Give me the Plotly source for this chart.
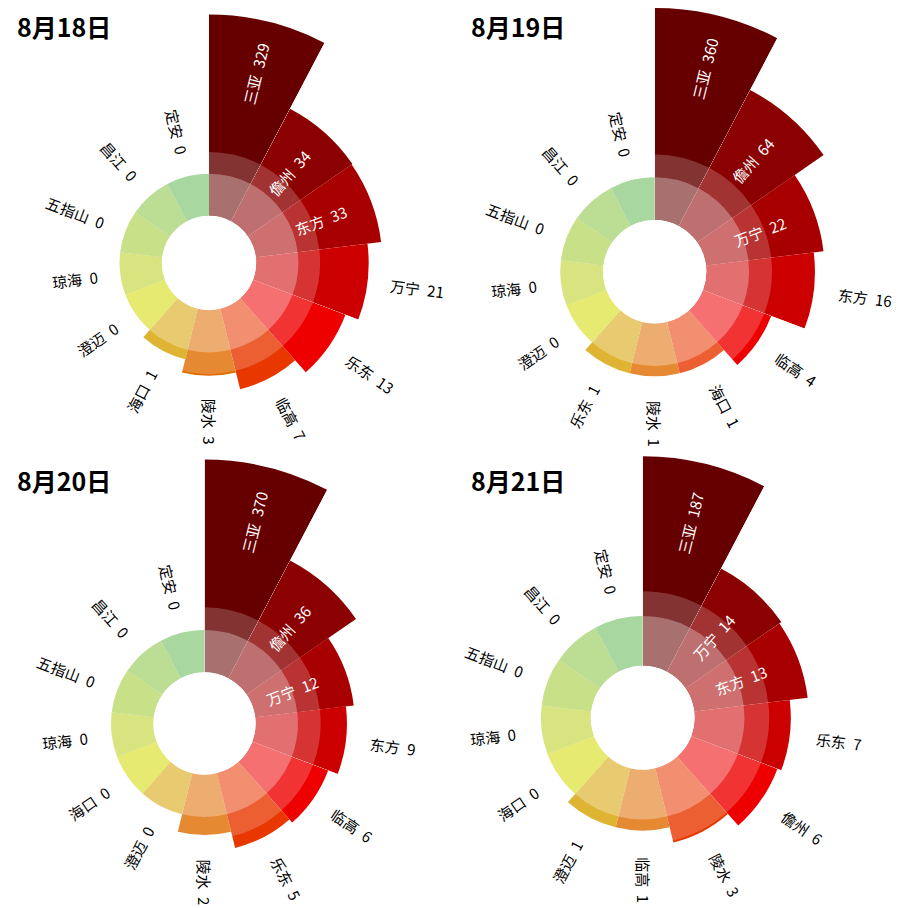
import numpy as np
import plotly.graph_objects as go

# ---------------- data ----------------
dates = ["8月18日", "8月19日", "8月20日", "8月21日"]

names_0818 = ["三亚", "儋州", "东方", "万宁", "乐东", "临高", "陵水", "海口", "澄迈", "琼海", "五指山", "昌江", "定安"]
values_0818 = [329, 34, 33, 21, 13, 7, 3, 1, 0, 0, 0, 0, 0]

names_0819 = ["三亚", "儋州", "万宁", "东方", "临高", "海口", "陵水", "乐东", "澄迈", "琼海", "五指山", "昌江", "定安"]
values_0819 = [360, 64, 22, 16, 4, 1, 1, 1, 0, 0, 0, 0, 0]

names_0820 = ["三亚", "儋州", "万宁", "东方", "临高", "乐东", "陵水", "澄迈", "海口", "琼海", "五指山", "昌江", "定安"]
values_0820 = [370, 36, 12, 9, 6, 5, 2, 0, 0, 0, 0, 0, 0]

names_0821 = ["三亚", "万宁", "东方", "乐东", "儋州", "陵水", "临高", "澄迈", "海口", "琼海", "五指山", "昌江", "定安"]
values_0821 = [187, 14, 13, 7, 6, 3, 1, 1, 0, 0, 0, 0, 0]

rank_colors = ["#660000", "#8b0000", "#a80000", "#cc0000", "#ee0000", "#e83800",
               "#e06c00", "#d8a200", "#d3da00", "#bacf1d", "#9dca2e", "#88c340", "#64ba56"]

charts = [(dates[0], names_0818, values_0818),
          (dates[1], names_0819, values_0819),
          (dates[2], names_0820, values_0820),
          (dates[3], names_0821, values_0821)]

# ---------------- layout / style ----------------
PAGE = 908
OFF = 8                      # default page margin of the html body
FIG = PAGE - OFF
# centre x, centre y, hole radius (px), px per radial unit   (page pixels)
geom = [(209.0, 263.0, 47.2, 48.3),
        (654.7, 271.7, 51.7, 51.0),
        (204.5, 723.5, 51.2, 50.5),
        (642.7, 717.8, 52.0, 55.0)]
title_pos = [(15, 26), (469, 26), (15, 480), (469, 480)]

RING, K, C, WEAK, STRONG_A, WEAK_A = 1.85, 0.70, 3.0, 2.30, 0.30, 0.20
FONT = "Noto Sans CJK SC"
LFS = 15
SP = "\u2002"

N = 13
STEP = 360.0 / N
theta_all = [(i + 0.5) * STEP for i in range(N)]
groups = [[0], [1, 2, 3], list(range(4, N))]   # sector pieces of every chart


def radial(v):
    return RING + K * np.log1p(np.asarray(v, dtype=float) / C)


def text_width(t, fs):
    w = 0.0
    for ch in t:
        if ch.isdigit():
            w += 0.55 * fs
        elif ch == SP:
            w += 0.5 * fs
        else:
            w += fs
    return w


def sector_bbox(s0, s1):
    arc = s1 - s0
    a0 = s0 % 360
    a1 = a0 + arc
    ax0, ay0 = np.cos(np.radians(a0)), np.sin(np.radians(a0))
    ax1, ay1 = np.cos(np.radians(a1)), np.sin(np.radians(a1))
    if (a0 <= 90 and a1 >= 90) or (a0 > 90 and a1 >= 450):
        y1 = 1
    elif ay0 <= 0 and ay1 <= 0:
        y1 = 0
    else:
        y1 = max(ay0, ay1)
    if (a0 <= 180 and a1 >= 180) or (a0 > 180 and a1 >= 540):
        x0 = -1
    elif ax0 >= 0 and ax1 >= 0:
        x0 = 0
    else:
        x0 = min(ax0, ax1)
    if (a0 <= 270 and a1 >= 270) or (a0 > 270 and a1 >= 630):
        y0 = -1
    elif ay0 >= 0 and ay1 >= 0:
        y0 = 0
    else:
        y0 = min(ay0, ay1)
    if a1 >= 360:
        x1 = 1
    elif ax0 <= 0 and ax1 <= 0:
        x1 = 0
    else:
        x1 = max(ax0, ax1)
    return x0, y0, x1, y1


def px(p):      # page pixel -> figure pixel
    return p - OFF


fig = go.Figure()
annotations = []
layout_polars = {}
pcount = 0

for k, (date, names, vals) in enumerate(charts):
    cx, cy, hole, s = geom[k]
    fcx, fcy = px(cx), px(cy)
    hu = hole / s
    uv = radial(vals)

    for g in groups:
        pcount += 1
        pid = "polar" if pcount == 1 else f"polar{pcount}"
        th_lo = g[0] * STEP
        th_hi = (g[-1] + 1) * STEP
        sec = [90 - th_hi, 90 - th_lo]
        bx0, by0, bx1, by1 = sector_bbox(*sec)
        R = max(max(uv[i] for i in g), WEAK) * s + 1.0
        lims = [R]
        if bx1 > 1e-9:
            lims.append((FIG - fcx) / bx1)
        if bx0 < -1e-9:
            lims.append(fcx / -bx0)
        if by1 > 1e-9:
            lims.append(fcy / by1)
        if by0 < -1e-9:
            lims.append((FIG - fcy) / -by0)
        R = min(lims) - 0.01
        xd = [max(0.0, (fcx + R * bx0) / FIG), min(1.0, (fcx + R * bx1) / FIG)]
        yd = [max(0.0, 1 - (fcy - R * by0) / FIG), min(1.0, 1 - (fcy - R * by1) / FIG)]

        th = [theta_all[i] for i in g]
        wd = [STEP] * len(g)
        fig.add_trace(go.Barpolar(r=[uv[i] - hu for i in g], theta=th, width=wd,
                                  marker=dict(color=[rank_colors[i] for i in g], line=dict(width=0)),
                                  subplot=pid, hoverinfo="skip", showlegend=False))
        fig.add_trace(go.Barpolar(r=[WEAK - hu] * len(g), theta=th, width=wd,
                                  marker=dict(color=f"rgba(255,255,255,{WEAK_A})", line=dict(width=0)),
                                  subplot=pid, hoverinfo="skip", showlegend=False))
        fig.add_trace(go.Barpolar(r=[RING - hu] * len(g), theta=th, width=wd,
                                  marker=dict(color=f"rgba(255,255,255,{STRONG_A})", line=dict(width=0)),
                                  subplot=pid, hoverinfo="skip", showlegend=False))

        layout_polars[pid] = dict(
            domain=dict(x=xd, y=yd),
            sector=sec,
            hole=hole / R,
            barmode="overlay",
            bgcolor="rgba(0,0,0,0)",
            radialaxis=dict(range=[0, (R - hole) / s], visible=False, showgrid=False),
            angularaxis=dict(rotation=90, direction="clockwise", visible=False, showgrid=False),
        )

    for i in range(N):
        th = theta_all[i]
        rad = np.radians(th)
        txt = f"{names[i]}{SP}{vals[i]}"
        if i < 3:
            rc = (uv[i] - 1.12) * s
            col = "white"
        else:
            rc = uv[i] * s + 0.48 * s + text_width(txt, LFS) / 2
            col = "black"
        ta = th - 90 if th <= 180 else th - 270
        x = fcx + rc * np.sin(rad)
        y = fcy - rc * np.cos(rad)
        annotations.append(dict(x=x / FIG, y=1 - y / FIG, xref="paper", yref="paper",
                                text=txt, showarrow=False, textangle=ta,
                                xanchor="center", yanchor="middle",
                                font=dict(family=FONT, size=LFS, color=col)))

    tx, ty = title_pos[k]
    annotations.append(dict(x=px(tx) / FIG, y=1 - px(ty) / FIG, xref="paper", yref="paper",
                            text=f"<b>{date}</b>", showarrow=False,
                            xanchor="left", yanchor="middle",
                            font=dict(family=FONT, size=25, color="black")))

fig.update_layout(width=FIG, height=FIG, autosize=False,
                  margin=dict(l=0, r=0, t=0, b=0, pad=0),
                  paper_bgcolor="white", plot_bgcolor="white",
                  showlegend=False, annotations=annotations,
                  **layout_polars)

fig.write_html("out.html")
